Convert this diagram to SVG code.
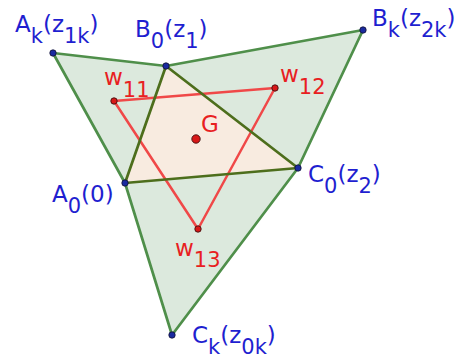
<svg xmlns="http://www.w3.org/2000/svg" width="464" height="360" viewBox="0 0 464 360">
<style>
text{font-family:"DejaVu Sans","Liberation Sans",sans-serif;font-size:23px}
.sub{font-size:21px}
.blue{fill:#1f1fd0}
.red{fill:#e8201f}
.outer{stroke:#4f8f4a;stroke-width:2.7;fill:none;stroke-linecap:round}
.inner{stroke:#4d6e1c;stroke-width:2.7;fill:none;stroke-linecap:round}
.rl{stroke:#f04848;stroke-width:2.5;fill:none;stroke-linecap:round}
.bp{fill:#1a2aa0;stroke:#101030;stroke-width:0.8}
.rp{fill:#d81818;stroke:#401010;stroke-width:0.9}
</style>
<rect width="464" height="360" fill="#ffffff"/>
<g id="regions">
<polygon points="53,53 166,66 363,30 298,168 172,335 125,183" fill="#dce9dd"/>
<polygon points="166,66 125,183 298,168" fill="#f8ebe0"/>
</g>
<g id="connectors">
<line class="outer" x1="53" y1="53" x2="166" y2="66"/>
<line class="outer" x1="166" y1="66" x2="363" y2="30"/>
<line class="outer" x1="363" y1="30" x2="298" y2="168"/>
<line class="outer" x1="298" y1="168" x2="172" y2="335"/>
<line class="outer" x1="172" y1="335" x2="125" y2="183"/>
<line class="outer" x1="125" y1="183" x2="53" y2="53"/>
<line class="rl" x1="114" y1="101" x2="275" y2="88"/>
<line class="rl" x1="275" y1="88" x2="198" y2="229"/>
<line class="rl" x1="198" y1="229" x2="114" y2="101"/>
<line class="inner" x1="166" y1="66" x2="125" y2="183"/>
<line class="inner" x1="125" y1="183" x2="298" y2="168"/>
<line class="inner" x1="298" y1="168" x2="166" y2="66"/>
</g>
<g id="Ak">
<circle class="bp" cx="53" cy="53" r="3.2"/>
<text class="blue" x="15" y="32">A<tspan class="sub" dy="11">k</tspan><tspan dy="-11">(z</tspan><tspan class="sub" dy="11">1k</tspan><tspan dy="-11">)</tspan></text>
</g>
<g id="B0">
<circle class="bp" cx="166" cy="66" r="3.2"/>
<text class="blue" x="135" y="37">B<tspan class="sub" dy="11">0</tspan><tspan dy="-11">(z</tspan><tspan class="sub" dy="11">1</tspan><tspan dy="-11">)</tspan></text>
</g>
<g id="Bk">
<circle class="bp" cx="363" cy="30" r="3.2"/>
<text class="blue" x="372" y="26">B<tspan class="sub" dy="11">k</tspan><tspan dy="-11">(z</tspan><tspan class="sub" dy="11">2k</tspan><tspan dy="-11">)</tspan></text>
</g>
<g id="A0">
<circle class="bp" cx="125" cy="183" r="3.2"/>
<text class="blue" x="52" y="202">A<tspan class="sub" dy="11">0</tspan><tspan dy="-11">(0)</tspan></text>
</g>
<g id="C0">
<circle class="bp" cx="298" cy="168" r="3.2"/>
<text class="blue" x="308" y="182">C<tspan class="sub" dy="11">0</tspan><tspan dy="-11">(z</tspan><tspan class="sub" dy="11">2</tspan><tspan dy="-11">)</tspan></text>
</g>
<g id="Ck">
<circle class="bp" cx="172" cy="335" r="3.2"/>
<text class="blue" x="192" y="343">C<tspan class="sub" dy="11">k</tspan><tspan dy="-11">(z</tspan><tspan class="sub" dy="11">0k</tspan><tspan dy="-11">)</tspan></text>
</g>
<g id="w11">
<circle class="rp" cx="114" cy="101" r="3.2"/>
<text class="red" x="104" y="85">w<tspan class="sub" dy="12">11</tspan></text>
</g>
<g id="w12">
<circle class="rp" cx="275" cy="88" r="3.2"/>
<text class="red" x="280" y="82">w<tspan class="sub" dy="12">12</tspan></text>
</g>
<g id="w13">
<circle class="rp" cx="198" cy="229" r="3.2"/>
<text class="red" x="175" y="256">w<tspan class="sub" dy="11">13</tspan></text>
</g>
<g id="G">
<circle class="rp" cx="196" cy="139" r="4.2"/>
<text class="red" x="201" y="132">G</text>
</g>
</svg>
